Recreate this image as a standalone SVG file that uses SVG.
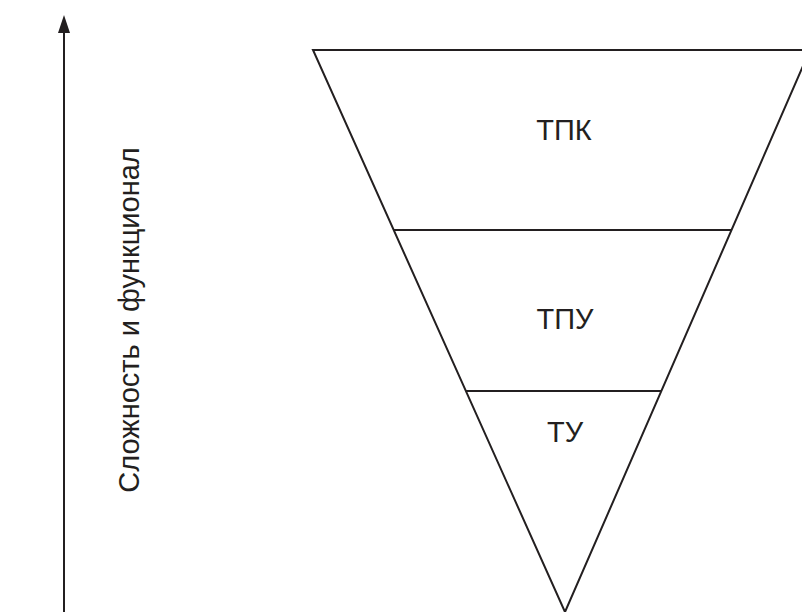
<svg xmlns="http://www.w3.org/2000/svg" width="802" height="612" viewBox="0 0 802 612">
<style>
.ln{stroke:#231f20;stroke-width:2;fill:none}
.lbl{font-family:"Liberation Sans",Arial,sans-serif;font-size:29px;fill:#231f20;text-anchor:middle}
</style>
<rect width="802" height="612" fill="#fff"/>
<g id="axis">
<line class="ln" x1="64" y1="612" x2="64" y2="32"/>
<polygon points="64,15 58,33 70,33" fill="#231f20"/>
<text class="lbl" transform="translate(139,320) rotate(-90)" font-size="28">Сложность и функционал</text>
</g>
<g id="connectors">
<polygon class="ln" points="313,50 810,50 565,612"/>
<line class="ln" x1="394" y1="230" x2="732" y2="230"/>
<line class="ln" x1="466" y1="391" x2="662" y2="391"/>
</g>
<g id="tpk"><text class="lbl" x="564" y="140">ТПК</text></g>
<g id="tpu"><text class="lbl" x="565" y="329">ТПУ</text></g>
<g id="tu"><text class="lbl" x="565" y="442">ТУ</text></g>
</svg>
